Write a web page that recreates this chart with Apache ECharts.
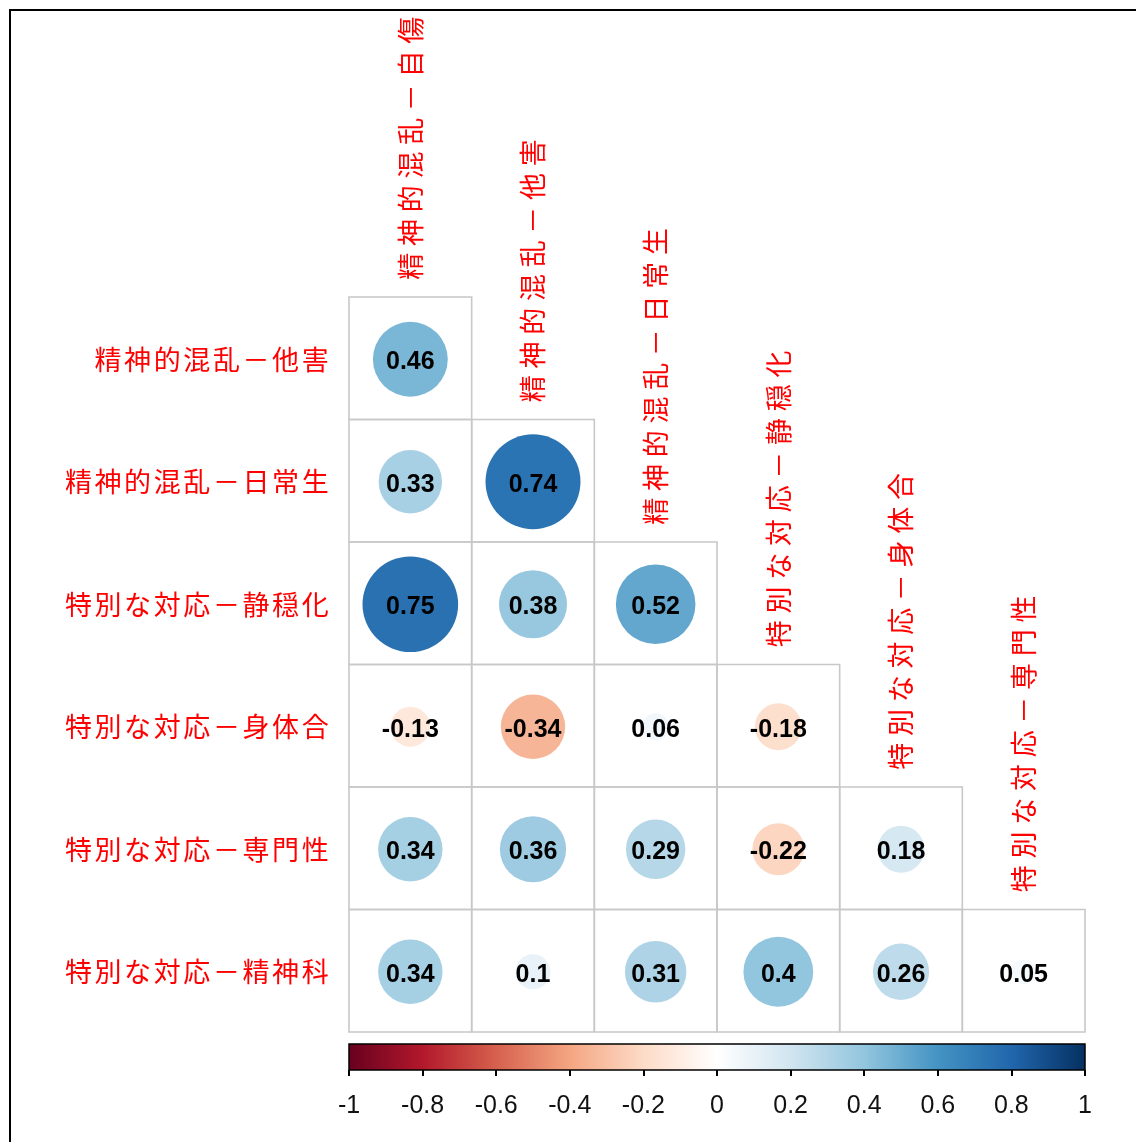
<!DOCTYPE html>
<html>
<head>
<meta charset="utf-8">
<script src="https://cdn.jsdelivr.net/npm/echarts@6/dist/echarts.min.js"></script>
<style>
  html, body { margin: 0; padding: 0; background: #fff; }
  #chart { width: 1136px; height: 1142px; }
</style>
</head>
<body>
<div id="chart"></div>
<script>
// Row variables (left side) and column variables (top, rotated)
const rowNames = ['精神的混乱－他害', '精神的混乱－日常生', '特別な対応－静穏化', '特別な対応－身体合', '特別な対応－専門性', '特別な対応－精神科'];
const colNames = ['精神的混乱－自傷', '精神的混乱－他害', '精神的混乱－日常生', '特別な対応－静穏化', '特別な対応－身体合', '特別な対応－専門性'];

// Lower-triangle correlation coefficients, one array per row
const row1 = [0.46];
const row2 = [0.33, 0.74];
const row3 = [0.75, 0.38, 0.52];
const row4 = [-0.13, -0.34, 0.06, -0.18];
const row5 = [0.34, 0.36, 0.29, -0.22, 0.18];
const row6 = [0.34, 0.10, 0.31, 0.40, 0.26, 0.05];
const corrRows = [row1, row2, row3, row4, row5, row6];

// Colour legend ticks
const legendTicks = [-1, -0.8, -0.6, -0.4, -0.2, 0, 0.2, 0.4, 0.6, 0.8, 1];

// Diverging red-blue palette spanning -1 .. 1
const palette = ['#67001F', '#B2182B', '#D6604D', '#F4A582', '#FDDBC7', '#FFFFFF',
                 '#D1E5F0', '#92C5DE', '#4393C3', '#2166AC', '#053061'];

function hexToRgb(h) {
  return [parseInt(h.slice(1, 3), 16), parseInt(h.slice(3, 5), 16), parseInt(h.slice(5, 7), 16)];
}
function colorFor(v) {
  const t = (v + 1) / 2 * (palette.length - 1);
  const i = Math.min(palette.length - 2, Math.max(0, Math.floor(t)));
  const f = t - i;
  const a = hexToRgb(palette[i]), b = hexToRgb(palette[i + 1]);
  const c = a.map((x, k) => Math.round(x + (b[k] - x) * f));
  return 'rgb(' + c.join(',') + ')';
}
function fmt(v) { return String(Number(v.toFixed(2))); }

// [column, row, value] triples for the cells
const cellData = [];
corrRows.forEach((vals, r) => vals.forEach((v, c) => cellData.push([c, r, v])));

const LABEL_FONT = '"Noto Sans CJK JP", "Noto Sans CJK SC", sans-serif';
const LABEL_RED = '#FF0000';

const chart = echarts.init(document.getElementById('chart'), null, { renderer: 'canvas' });

chart.setOption({
  animation: false,
  backgroundColor: '#fff',
  graphic: [{
    type: 'rect',
    shape: { x: 10, y: 10, width: 1300, height: 1300 },
    style: { fill: 'none', stroke: '#000', lineWidth: 2 },
    silent: true,
    z: 100
  }],
  grid: [
    { left: 349, top: 297, width: 736, height: 735 },
    { left: 349, top: 1044, width: 736, height: 26 }
  ],
  xAxis: [
    { type: 'value', gridIndex: 0, min: 0, max: 6, show: false },
    {
      type: 'value', gridIndex: 1, min: -1, max: 1, interval: 0.2,
      axisLine: { show: false },
      axisTick: { show: true, length: 6, lineStyle: { color: '#000', width: 2 } },
      splitLine: { show: false },
      axisLabel: {
        fontSize: 25, color: '#111', margin: 24,
        fontFamily: '"Liberation Sans", Arial, sans-serif',
        formatter: v => fmt(v)
      }
    }
  ],
  yAxis: [
    { type: 'value', gridIndex: 0, min: 0, max: 6, inverse: true, show: false },
    { type: 'value', gridIndex: 1, min: 0, max: 1, show: false }
  ],
  series: [
    {
      // cells: border, circle sized by |r|, coefficient text
      type: 'custom',
      xAxisIndex: 0, yAxisIndex: 0,
      clip: false,
      data: cellData,
      renderItem: function (params, api) {
        const c = api.value(0), r = api.value(1), v = api.value(2);
        const p0 = api.coord([c, r]);
        const p1 = api.coord([c + 1, r + 1]);
        const w = p1[0] - p0[0], h = p1[1] - p0[1];
        const cx = p0[0] + w / 2, cy = p0[1] + h / 2;
        const rad = 0.45 * w * Math.sqrt(Math.abs(v));
        return {
          type: 'group',
          children: [
            { type: 'rect', shape: { x: p0[0], y: p0[1], width: w, height: h },
              style: { fill: 'none', stroke: '#C8C8C8', lineWidth: 1.6 } },
            { type: 'circle', shape: { cx: cx, cy: cy + 1, r: rad },
              style: { fill: colorFor(v) } },
            { type: 'text', x: cx, y: cy + 4,
              style: { text: fmt(v), align: 'center', verticalAlign: 'middle',
                       fill: '#000', fontSize: 25, fontWeight: 'bold',
                       fontFamily: '"Liberation Sans", Arial, sans-serif' } }
          ]
        };
      }
    },
    {
      // row labels, right-aligned beside each row
      type: 'custom',
      xAxisIndex: 0, yAxisIndex: 0,
      clip: false,
      data: rowNames.map((n, i) => [0, i + 0.5]),
      renderItem: function (params, api) {
        const name = rowNames[params.dataIndex];
        const p = api.coord([api.value(0), api.value(1)]);
        const chars = Array.from(name);
        const step = 29.6;
        const right = p[0] - 19;
        return {
          type: 'group',
          children: chars.map((ch, k) => ({
            type: 'text',
            x: right - (chars.length - k - 0.5) * step,
            y: p[1] + 1,
            style: { text: ch, align: 'center', verticalAlign: 'middle',
                     fill: LABEL_RED, fontSize: 27, fontFamily: LABEL_FONT }
          }))
        };
      }
    },
    {
      // column labels, rotated, sitting above each column's first cell
      type: 'custom',
      xAxisIndex: 0, yAxisIndex: 0,
      clip: false,
      data: colNames.map((n, j) => [j + 0.5, j]),
      renderItem: function (params, api) {
        const name = colNames[params.dataIndex];
        const p = api.coord([api.value(0), api.value(1)]);
        const chars = Array.from(name);
        const step = 33.7;
        const bottom = p[1] - 14;
        return {
          type: 'group',
          children: chars.map((ch, k) => ({
            type: 'text',
            x: p[0],
            y: bottom - (k + 0.5) * step,
            rotation: Math.PI / 2,
            style: { text: ch, align: 'center', verticalAlign: 'middle',
                     fill: LABEL_RED, fontSize: 27, fontFamily: LABEL_FONT }
          }))
        };
      }
    },
    {
      // colour legend bar
      type: 'custom',
      xAxisIndex: 1, yAxisIndex: 1,
      clip: false,
      data: [[legendTicks[0], 0, legendTicks[legendTicks.length - 1], 1]],
      renderItem: function (params, api) {
        const a = api.coord([api.value(0), api.value(3)]);
        const b = api.coord([api.value(2), api.value(1)]);
        return {
          type: 'rect',
          shape: { x: a[0], y: a[1], width: b[0] - a[0], height: b[1] - a[1] },
          style: {
            fill: new echarts.graphic.LinearGradient(0, 0, 1, 0,
              palette.map((c, i) => ({ offset: i / (palette.length - 1), color: c }))),
            stroke: '#000', lineWidth: 1.5
          }
        };
      }
    }
  ]
});
</script>
</body>
</html>
